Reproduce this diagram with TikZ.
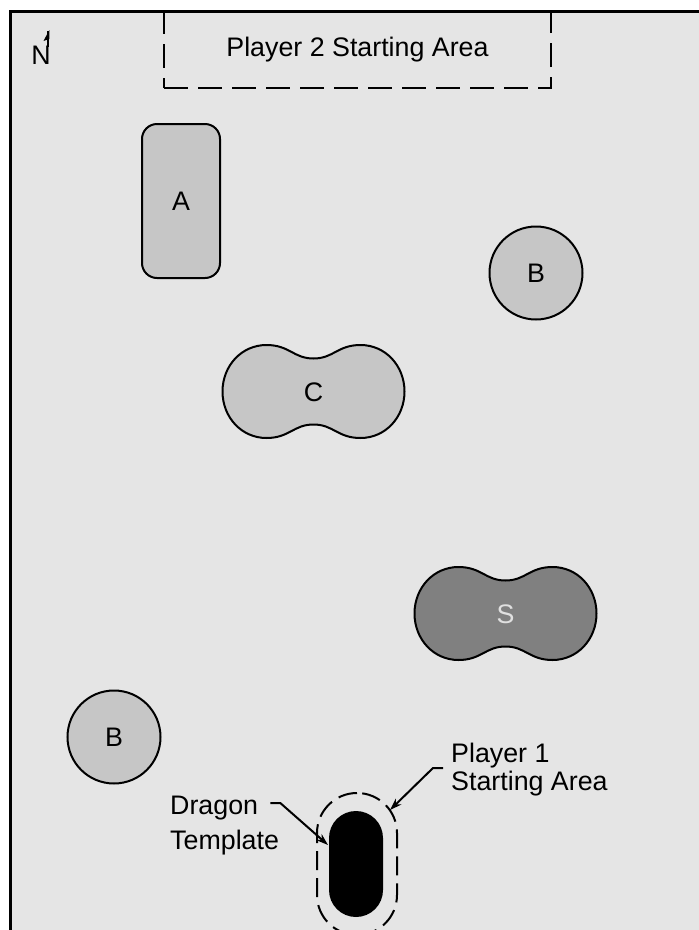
\documentclass[tikz,border=0pt]{standalone}
\usepackage{fontspec}
\setmainfont{Liberation Sans}
\definecolor{mapbg}{RGB}{229,229,229}
\definecolor{terrain}{RGB}{198,198,198}
\definecolor{hill}{RGB}{128,128,128}
\definecolor{hilltext}{RGB}{224,224,224}
\usetikzlibrary{arrows.meta,positioning,calc}

% two-lobed terrain piece: centre x, centre y, fill colour
\newcommand{\peanut}[3]{%
  \draw[piece,fill=#3,shift={(#1,#2)}]
    (-91,0) .. controls (-91,-25.7) and (-72,-46.5) .. (-47,-46.5)
    .. controls (-24,-46.5) and (-20,-33) .. (0,-33)
    .. controls (20,-33) and (24,-46.5) .. (47,-46.5)
    .. controls (72,-46.5) and (91,-25.7) .. (91,0)
    .. controls (91,25.7) and (72,46.5) .. (47,46.5)
    .. controls (24,46.5) and (20,33) .. (0,33)
    .. controls (-20,33) and (-24,46.5) .. (-47,46.5)
    .. controls (-72,46.5) and (-91,25.7) .. (-91,0) -- cycle;}

\begin{document}
\begin{tikzpicture}[
  x=1pt,y=-1pt,
  every node/.style={font=\fontsize{26.8}{29}\selectfont,inner sep=0pt},
  piece/.style={draw=black,line width=2pt},
  roundpiece/.style={piece,circle,fill=terrain,minimum size=93pt},
  zone/.style={draw=black,line width=2.6pt,dash pattern=on 24pt off 10pt},
  arr/.style={-{Stealth[length=12pt,width=8pt]},line width=2pt,black},
]
  \useasboundingbox (0,0) rectangle (699,930);
  \clip (0,0) rectangle (699,930);

  % Table edge
  \draw[fill=mapbg,line width=2.6pt] (10.5,11.5) rectangle (720,950);

  % North marker
  \node (north) at (41,55) {N};
  \draw[line width=2pt] (48.3,47) -- (48.3,31);
  \fill (49.3,30) -- (43.5,41) -- (49.3,39) -- cycle;

  % Player 2 starting area
  \node[zone,minimum width=387pt,minimum height=77pt] (p2area) at (357.5,49.5)
    {Player 2 Starting Area};

  % Terrain pieces
  \node[piece,fill=terrain,rounded corners=15pt,minimum width=78pt,
        minimum height=154pt] (ruinA) at (181,201) {A};
  \node[roundpiece] (woodB1) at (536,273) {B};
  \node[roundpiece] (woodB2) at (114,737) {B};

  \peanut{313.5}{391.5}{terrain}
  \node (hillC) at (313.5,392) {C};
  \peanut{505.5}{613.5}{hill}
  \node[text=hilltext] (hillS) at (505.5,614) {S};

  % Player 1 starting area and dragon template
  \node[draw=black,line width=2pt,dash pattern=on 19pt off 8pt,rounded corners=40pt,
        minimum width=80pt,minimum height=142pt] (p1area) at (357,864) {};
  \node[fill=black,rounded corners=27pt,minimum width=54pt,
        minimum height=106pt] (dragon) at (356,864) {};

  % Labels
  \node[anchor=base west] (p1top) at (451,762) {Player 1};
  \node[anchor=base west] (p1bot) at (451,790) {Starting Area};
  \node[anchor=base west] (dragA) at (170,814) {Dragon};
  \node[anchor=base west] (dragB) at (170,849) {Template};

  \coordinate (p1tip) at (390,810);
  \coordinate (dragtip) at (328,845);

  % Leaders
  \draw[arr] ($(p1top.base west)+(-8,6)$) -- ++(-10,0) -- (p1tip);
  \draw[arr] ($(dragA.base east)+(12,-11)$) -- ++(10,0) -- (dragtip);
\end{tikzpicture}
\end{document}
